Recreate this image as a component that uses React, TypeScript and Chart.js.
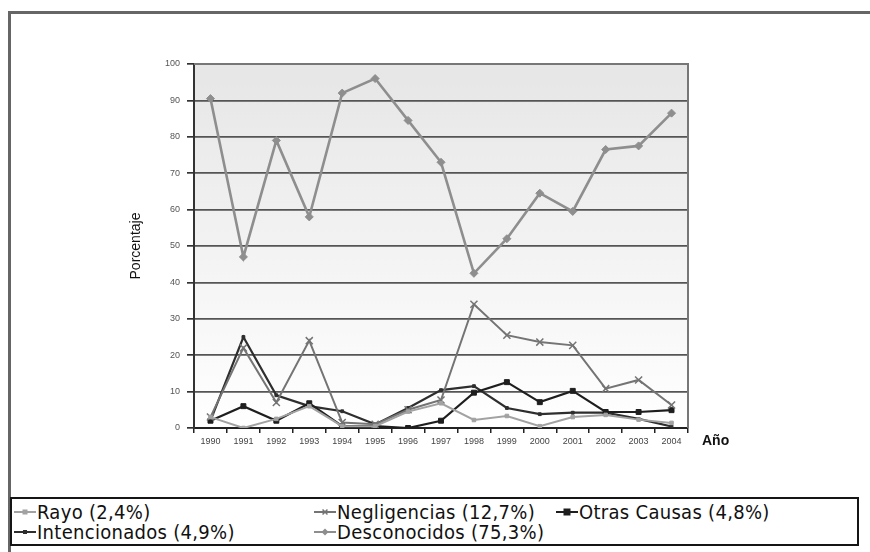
import React, { useEffect, useRef } from "react";
import { Chart, registerables } from "chart.js";

Chart.register(...registerables);

const years = ["1990", "1991", "1992", "1993", "1994", "1995", "1996", "1997", "1998", "1999", "2000", "2001", "2002", "2003", "2004"];
const rayo = [3, 0, 2.5, 6, 0.5, 0.5, 4.5, 6.8, 2.2, 3.3, 0.5, 3, 3.6, 2.3, 1.4];
const negligencias = [3, 22, 7, 24, 1.5, 1, 5, 7.7, 34, 25.5, 23.6, 22.7, 10.8, 13.2, 6.3];
const otrasCausas = [2, 6, 2, 6.8, 0.5, 0.5, 0, 2, 9.7, 12.6, 7.1, 10.2, 4.4, 4.4, 4.9];
const intencionados = [2, 25, 9, 6, 4.6, 1, 5.5, 10.4, 11.5, 5.5, 3.8, 4.2, 4.2, 2.5, 0.4];
const desconocidos = [90.5, 47, 79, 58, 92, 96, 84.5, 73, 42.5, 52, 64.5, 59.5, 76.5, 77.5, 86.5];

const seriesNames = ["Rayo (2,4%)", "Negligencias (12,7%)", "Otras Causas (4,8%)", "Intencionados (4,9%)", "Desconocidos (75,3%)"];
const seriesColors = ["#a2a2a2", "#747474", "#1e1e1e", "#2e2e2e", "#8e8e8e"];
const seriesMarkers = ["rect", "crossRot", "rect", "rect", "rectRot"];
const seriesRadius = [2.5, 5, 3.5, 2, 4];
const seriesWidth = [2, 2, 2.2, 2.2, 2.6];
const seriesData = [rayo, negligencias, otrasCausas, intencionados, desconocidos];

const yMin = 0;
const yMax = 100;
const yStep = 10;
const yTitle = "Porcentaje";
const xTitle = "Año";

const tickFont = '"Liberation Sans Narrow", "Liberation Sans", Arial, sans-serif';

const framePlugin = {
  id: "framePlugin",
  beforeDraw(chart: any) {
    const { ctx, chartArea: a } = chart;
    const g = ctx.createLinearGradient(0, a.top, 0, a.bottom);
    g.addColorStop(0, "#e6e6e6");
    g.addColorStop(1, "#ffffff");
    ctx.save();
    ctx.fillStyle = g;
    ctx.fillRect(a.left, a.top, a.right - a.left, a.bottom - a.top);
    ctx.restore();
  },
  beforeDatasetsDraw(chart: any) {
    const { ctx, chartArea: a } = chart;
    ctx.save();
    ctx.strokeStyle = "#777";
    ctx.lineWidth = 2;
    ctx.beginPath();
    ctx.moveTo(a.left, a.top);
    ctx.lineTo(a.right, a.top);
    ctx.lineTo(a.right, a.bottom);
    ctx.stroke();
    ctx.restore();
  },
  afterDraw(chart: any) {
    const { ctx, chartArea: a } = chart;
    ctx.save();
    ctx.font = 'bold 14px "Liberation Sans", Arial, sans-serif';
    ctx.fillStyle = "#111";
    ctx.textAlign = "left";
    ctx.textBaseline = "middle";
    ctx.fillText(xTitle, a.right + 14, a.bottom + 13);
    ctx.restore();
  },
};

function Marker({ type, color, r }: { type: string; color: string; r: number }) {
  const w = 22;
  const cx = w / 2;
  const cy = 8;
  let shape: any = null;
  if (type === "rect") {
    shape = <rect x={cx - r} y={cy - r} width={2 * r} height={2 * r} fill={color} />;
  } else if (type === "rectRot") {
    shape = <polygon points={`${cx},${cy - r} ${cx + r},${cy} ${cx},${cy + r} ${cx - r},${cy}`} fill={color} />;
  } else if (type === "crossRot") {
    shape = (
      <g stroke={color} strokeWidth={1.5}>
        <line x1={cx - r * 0.7} y1={cy - r * 0.7} x2={cx + r * 0.7} y2={cy + r * 0.7} />
        <line x1={cx - r * 0.7} y1={cy + r * 0.7} x2={cx + r * 0.7} y2={cy - r * 0.7} />
      </g>
    );
  }
  return (
    <svg width={w} height={16} style={{ display: "block" }}>
      <line x1={0} y1={cy} x2={w} y2={cy} stroke={color} strokeWidth={2} />
      {shape}
    </svg>
  );
}

export default function App() {
  const canvasRef = useRef<HTMLCanvasElement | null>(null);

  useEffect(() => {
    if (!canvasRef.current) return;
    const chart = new Chart(canvasRef.current, {
      type: "line",
      data: {
        labels: years,
        datasets: seriesData.map((d, i) => ({
          label: seriesNames[i],
          data: d,
          borderColor: seriesColors[i],
          backgroundColor: seriesColors[i],
          pointBorderColor: seriesColors[i],
          pointBackgroundColor: seriesColors[i],
          pointStyle: seriesMarkers[i] as any,
          pointRadius: seriesRadius[i],
          pointBorderWidth: seriesMarkers[i] === "crossRot" ? 1.5 : 1,
          borderWidth: seriesWidth[i],
          tension: 0,
          fill: false,
        })),
      },
      options: {
        responsive: false,
        animation: false,
        layout: { padding: { left: 126, top: 64, right: 182, bottom: 22 } },
        plugins: {
          legend: { display: false },
          tooltip: { enabled: false },
        },
        scales: {
          x: {
            type: "category",
            offset: true,
            grid: {
              display: true,
              drawOnChartArea: false,
              drawTicks: true,
              tickLength: 5,
              color: "#222",
              lineWidth: 1.5,
              offset: true,
            },
            border: { display: true, color: "#222", width: 2 },
            ticks: {
              color: "#444",
              font: { family: tickFont, size: 9 },
              padding: 3,
              maxRotation: 0,
              autoSkip: false,
            },
            afterFit(scale: any) {
              scale.height = 30;
            },
          },
          y: {
            min: yMin,
            max: yMax,
            grid: {
              color: "#555",
              lineWidth: 1.7,
              tickLength: 7,
              tickColor: "#333",
            },
            border: { display: true, color: "#333", width: 2 },
            ticks: {
              stepSize: yStep,
              color: "#555",
              font: { family: tickFont, size: 9 },
              padding: 7,
            },
            title: {
              display: true,
              text: yTitle,
              color: "#111",
              font: { family: '"Liberation Sans", Arial, sans-serif', size: 14 },
              padding: { top: 2, bottom: 0 },
            },
            afterFit(scale: any) {
              scale.width = 68;
            },
          },
        },
      },
      plugins: [framePlugin],
    });
    return () => chart.destroy();
  }, []);

  const colX = [14, 314, 556];
  const rowY = [502, 522];
  const order = [
    [0, 0, 0],
    [1, 1, 0],
    [2, 2, 0],
    [3, 0, 1],
    [4, 1, 1],
  ];

  return (
    <div style={{ position: "fixed", left: 0, top: 0, width: 870, height: 552, background: "#fff", overflow: "hidden" }}>
      <div style={{ position: "absolute", left: 8, top: 11, width: 900, height: 600, border: "3px solid #666", boxSizing: "border-box" }} />
      <canvas ref={canvasRef} width={870} height={480} style={{ position: "absolute", left: 0, top: 0 }} />
      <div
        style={{
          position: "absolute",
          left: 10,
          top: 497,
          width: 849,
          height: 49,
          border: "2px solid #151515",
          boxSizing: "border-box",
          background: "#fff",
        }}
      />
      {order.map(([si, c, r]) => (
        <div
          key={si}
          style={{
            position: "absolute",
            left: colX[c],
            top: rowY[r],
            height: 20,
            display: "flex",
            alignItems: "center",
            fontFamily: '"DejaVu Sans Condensed", "DejaVu Sans", sans-serif',
            fontSize: 20,
            letterSpacing: "0.3px",
            color: "#111",
            whiteSpace: "nowrap",
            lineHeight: "20px",
          }}
        >
          <Marker type={seriesMarkers[si]} color={seriesColors[si]} r={Math.min(seriesRadius[si], 3.5)} />
          <span style={{ marginLeft: 1 }}>{seriesNames[si]}</span>
        </div>
      ))}
    </div>
  );
}
